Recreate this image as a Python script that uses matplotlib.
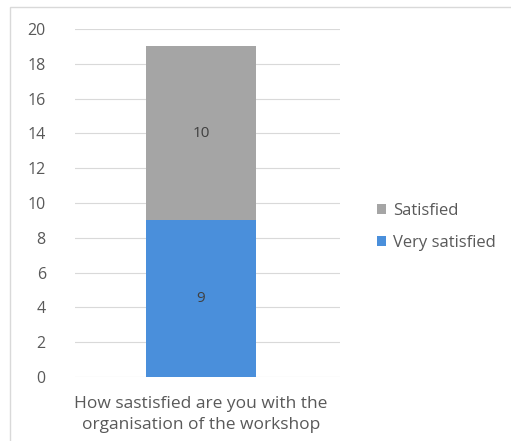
import matplotlib
matplotlib.use("Agg")
import matplotlib.pyplot as plt
from matplotlib.patches import Rectangle, Patch

categories = ["How sastisfied are you with the\norganisation of the workshop"]
very_satisfied = [9]
satisfied = [10]
series_names = ["Very satisfied", "Satisfied"]
yticks = [0, 2, 4, 6, 8, 10, 12, 14, 16, 18, 20]

plt.rcParams['font.family'] = ['Open Sans', 'DejaVu Sans']

fig = plt.figure(figsize=(5.11, 4.41), dpi=100)
fig.patch.set_facecolor("white")
fig.add_artist(Rectangle((10/511, -0.01), 1.0, 1 - 7/441 + 0.01, transform=fig.transFigure,
                         fill=False, edgecolor="#d9d9d9", linewidth=1.0))

ax = fig.add_axes([75/511, (441-377)/441, 265/511, (377-29)/441])
x = list(range(len(categories)))
blue = "#4a8fdb"
gray = "#a5a5a5"
ax.bar(x, very_satisfied, width=0.415, color=blue, zorder=3)
ax.bar(x, satisfied, bottom=very_satisfied, width=0.415, color=gray, zorder=3)
for i in x:
    ax.text(i, very_satisfied[i] / 2, str(very_satisfied[i]), ha="center", va="center",
            fontsize=11, color="#404040", zorder=4)
    ax.text(i, very_satisfied[i] + satisfied[i] / 2, str(satisfied[i]), ha="center", va="center",
            fontsize=11, color="#404040", zorder=4)

ax.set_ylim(0, 20)
ax.set_xlim(-0.4755, 0.5245)
ax.set_yticks(yticks)
ax.set_yticklabels([str(t) for t in yticks])
ax.set_xticks(x)
ax.set_xticklabels(categories, fontsize=12.5, color="#595959", linespacing=1.4)
ax.tick_params(axis="y", length=0, pad=21, labelsize=11.5, labelcolor="#595959")
ax.tick_params(axis="x", length=0, pad=14)
ax.grid(axis="y", color="#d9d9d9", linewidth=0.8, zorder=0)
for s in ax.spines.values():
    s.set_visible(False)

handles = [Patch(facecolor=gray), Patch(facecolor=blue)]
fig.legend(handles, ["Satisfied", "Very satisfied"], loc="center left",
           bbox_to_anchor=(362/511, 1 - 227/441), frameon=False, fontsize=12,
           labelcolor="#595959", handlelength=0.55, handleheight=0.55, handletextpad=0.4,
           labelspacing=0.95)

fig.savefig("out.png", dpi=100)
